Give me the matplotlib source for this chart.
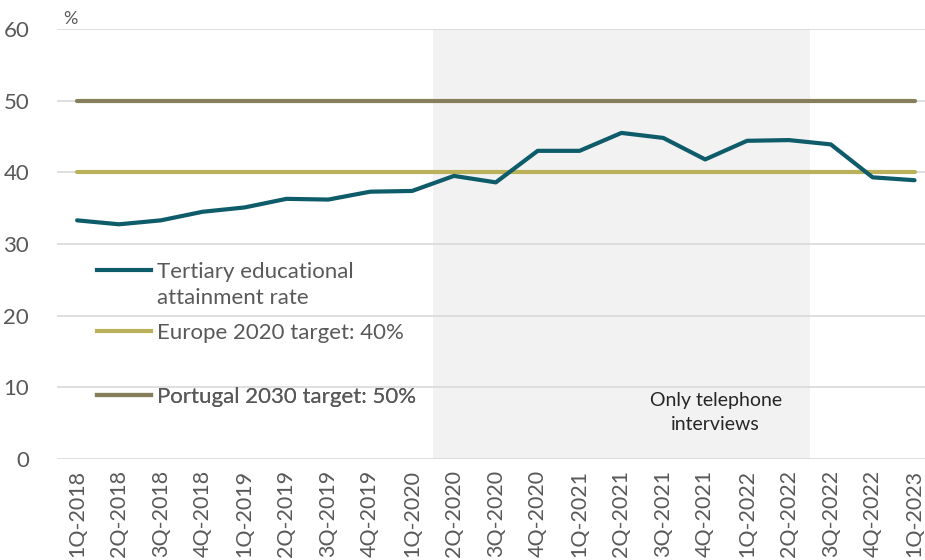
import matplotlib
matplotlib.use("Agg")
import numpy as np
import matplotlib.pyplot as plt
from matplotlib.lines import Line2D
from matplotlib.legend_handler import HandlerLine2D

quarters = ["1Q-2018", "2Q-2018", "3Q-2018", "4Q-2018", "1Q-2019", "2Q-2019", "3Q-2019",
            "4Q-2019", "1Q-2020", "2Q-2020", "3Q-2020", "4Q-2020", "1Q-2021", "2Q-2021",
            "3Q-2021", "4Q-2021", "1Q-2022", "2Q-2022", "3Q-2022", "4Q-2022", "1Q-2023"]
tertiary = [33.3, 32.75, 33.3, 34.5, 35.1, 36.3, 36.2, 37.3, 37.4, 39.5, 38.6, 43.0, 43.0,
            45.5, 44.8, 41.8, 44.4, 44.5, 43.9, 39.3, 38.9]
europe_target = [40] * len(quarters)
portugal_target = [50] * len(quarters)
shade_start, shade_end = "2Q-2020", "2Q-2022"
y_ticks = [0, 10, 20, 30, 40, 50, 60]

plt.rcParams['font.family'] = ['Lato', 'DejaVu Sans']
TXT = "#595959"
C_TER = "#0E5B69"
C_EU = "#BAB15A"
C_PT = "#857F5B"

fig = plt.figure(figsize=(9.25, 5.6), dpi=100)
ax = fig.add_axes([57/925, 1 - 459/560, (925 - 57)/925, (459 - 29)/560])

x = list(range(len(quarters)))
i0 = quarters.index(shade_start) - 0.5
i1 = quarters.index(shade_end) + 0.5
ax.axvspan(i0, i1, color="#F2F2F2", zorder=0, lw=0)

for t in y_ticks:
    ax.axhline(t, color="#D9D9D9", lw=1.2, zorder=1)

ax.plot(x, portugal_target, color=C_PT, lw=3, solid_capstyle="round", zorder=3)
ax.plot(x, europe_target, color=C_EU, lw=3, solid_capstyle="round", zorder=3)
ax.plot(x, tertiary, color=C_TER, lw=3, solid_capstyle="round", zorder=4)

ax.set_xlim(-0.48, 20.25)
ax.set_ylim(0, 60)
ax.set_yticks(y_ticks)
ax.set_xticks(x)
ax.set_xticklabels(quarters, rotation=90, fontsize=15.5, color=TXT)
ax.tick_params(axis="y", labelsize=16, colors=TXT, length=0, pad=20)
ax.tick_params(axis="x", length=0, pad=8)
for s in ax.spines.values():
    s.set_visible(False)

ax.text(6/868, 1.005, "%", transform=ax.transAxes, fontsize=13, color=TXT, ha="left", va="bottom")
ax.text((i0 + i1) / 2 + 2.25, 9.3, "Only telephone\ninterviews", ha="center", va="top",
        fontsize=14, color="#262626", linespacing=1.5)


class TopLineHandler(HandlerLine2D):
    def __init__(self, shift, **kw):
        super().__init__(**kw)
        self.shift = shift

    def create_artists(self, legend, orig_handle, xdescent, ydescent, width, height,
                       fontsize, trans):
        arts = super().create_artists(legend, orig_handle, xdescent, ydescent, width,
                                      height, fontsize, trans)
        for a in arts:
            a.set_ydata(np.asarray(a.get_ydata()) + self.shift)
        return arts


FS = 16
entries = [
    (C_TER, "Tertiary educational\nattainment rate", 0.405, 10.8),
    (C_EU, "Europe 2020 target: 40%", 0.293, 0.0),
    (C_PT, "Portugal 2030 target: 50%", 0.144, 0.0),
]
for color, label, ypos, shift in entries:
    h = Line2D([], [], color=color, lw=3)
    leg = ax.legend([h], [label], loc="center left", bbox_to_anchor=(0.046, ypos),
                    frameon=False, fontsize=FS, handlelength=2.43, handletextpad=0.27,
                    borderaxespad=0, borderpad=0,
                    handler_map={h: TopLineHandler(shift)})
    for t in leg.get_texts():
        t.set_color(TXT)
        t.set_linespacing(1.35)
    ax.add_artist(leg)

fig.savefig("out.png", dpi=100)
